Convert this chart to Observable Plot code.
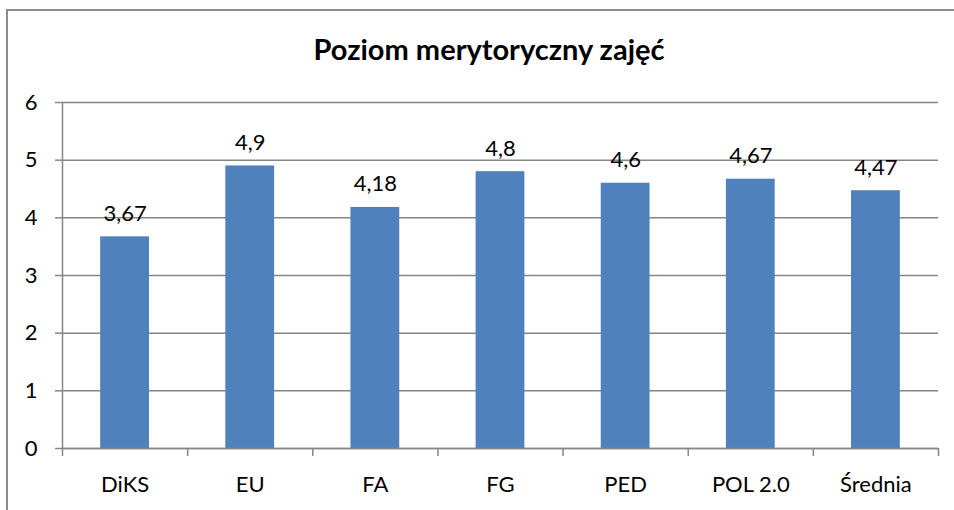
<!DOCTYPE html>
<html>
<head>
<meta charset="utf-8">
<script src="https://cdn.jsdelivr.net/npm/d3@7"></script>
<script src="https://cdn.jsdelivr.net/npm/@observablehq/plot@0.6"></script>
<style>
  html, body { margin: 0; padding: 0; background: #fff; }
  #wrap { position: relative; width: 954px; height: 510px; overflow: hidden; font-family: Lato, "Open Sans", sans-serif; }
  #frame { position: absolute; left: 6px; top: 9px; width: 1000px; height: 600px; border: 2px solid #8c8c8c; box-sizing: border-box; }
  #title { position: absolute; left: 0; width: 978px; top: 31px; text-align: center; font-weight: bold; font-size: 29px; color: #000; }
  #chart { position: absolute; left: 0; top: 0; }
</style>
</head>
<body>
<div id="wrap">
  <div id="frame"></div>
  <div id="chart"></div>
  <div id="title">Poziom merytoryczny zajęć</div>
</div>
<script>
const categories = ["DiKS", "EU", "FA", "FG", "PED", "POL 2.0", "Średnia"];
const values = [3.67, 4.9, 4.18, 4.8, 4.6, 4.67, 4.47];
const yTicks = [0, 1, 2, 3, 4, 5, 6];

const data = categories.map((c, i) => ({idx: i, cat: c, value: values[i]}));
const fmt = v => String(v).replace(".", ",");
const grid = "#868686";

const chart = Plot.plot({
  width: 954,
  height: 510,
  marginTop: 102,
  marginBottom: 62,
  marginLeft: 62,
  marginRight: 16,
  style: {fontFamily: "Lato, 'Open Sans', sans-serif", fontSize: "22px", color: "#000", background: "transparent"},
  x: {type: "linear", domain: [0, categories.length], axis: null},
  y: {domain: [0, 6], axis: null},
  marks: [
    Plot.gridY(yTicks, {stroke: grid, strokeOpacity: 1, strokeWidth: 1.5}),
    Plot.rectY(data, {x1: d => d.idx + 0.305, x2: d => d.idx + 0.695, y: "value", fill: "#4f81bd"}),
    Plot.ruleX([0], {stroke: grid, strokeWidth: 1.5}),
    Plot.ruleY([0], {stroke: grid, strokeWidth: 1.5}),
    Plot.axisY({ticks: yTicks, label: null, tickSize: 7, tickPadding: 18, stroke: grid, strokeWidth: 1.5, fontSize: 22, tickFormat: d => String(d), color: "#000"}),
    Plot.axisX({ticks: d3.range(categories.length + 1), label: null, tickSize: 8, stroke: grid, strokeWidth: 1.5, tickFormat: () => ""}),
    Plot.axisX({ticks: d3.range(categories.length).map(i => i + 0.5), label: null, tickSize: 0, tickPadding: 28, fontSize: 22, tickFormat: v => categories[Math.floor(v)]}),
    Plot.text(data, {x: d => d.idx + 0.5, y: "value", text: d => fmt(d.value), lineAnchor: "bottom", dy: -16, fontSize: 22, fill: "#000"})
  ]
});
document.getElementById("chart").appendChild(chart);
</script>
</body>
</html>
